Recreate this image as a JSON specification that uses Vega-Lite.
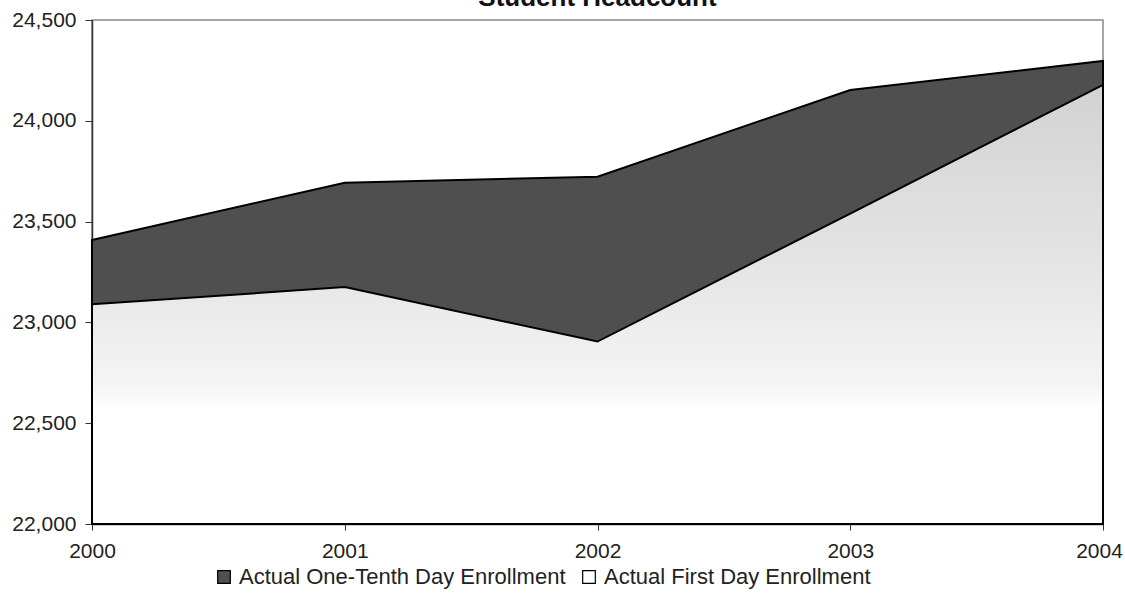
{
  "$schema": "https://vega.github.io/schema/vega-lite/v6.json",
  "autosize": "none",
  "width": 1011,
  "height": 504,
  "padding": {"left": 92, "top": 20, "right": 22, "bottom": 73},
  "background": "white",
  "title": {"text": "Student Headcount", "font": "Liberation Sans", "fontSize": 26, "fontWeight": "bold", "color": "#111", "anchor": "middle", "baseline": "alphabetic", "offset": 0, "dy": 23, "frame": "group"},
  "config": {
    "view": {"stroke": "#888", "strokeWidth": 1.5},
    "axis": {"labelFont": "Liberation Sans", "labelFontSize": 21, "labelColor": "#222", "domainColor": "#333", "tickColor": "#333", "domainWidth": 1.5, "grid": false, "title": null},
    "legend": {"labelFont": "Liberation Sans", "labelFontSize": 22, "labelColor": "#222", "labelLimit": 0}
  },
  "data": {
    "values": [
      {"year": 2000, "series": "Actual One-Tenth Day Enrollment", "value": 23409},
      {"year": 2001, "series": "Actual One-Tenth Day Enrollment", "value": 23693},
      {"year": 2002, "series": "Actual One-Tenth Day Enrollment", "value": 23723},
      {"year": 2003, "series": "Actual One-Tenth Day Enrollment", "value": 24153},
      {"year": 2004, "series": "Actual One-Tenth Day Enrollment", "value": 24297},
      {"year": 2000, "series": "Actual First Day Enrollment", "value": 23090},
      {"year": 2001, "series": "Actual First Day Enrollment", "value": 23175},
      {"year": 2002, "series": "Actual First Day Enrollment", "value": 22905},
      {"year": 2003, "series": "Actual First Day Enrollment", "value": 23540},
      {"year": 2004, "series": "Actual First Day Enrollment", "value": 24178}
    ]
  },
  "encoding": {
    "x": {"field": "year", "type": "quantitative", "scale": {"domain": [2000, 2004], "nice": false, "zero": false},
      "axis": {"values": [2000, 2001, 2002, 2003, 2004], "format": "d", "tickSize": 6, "labelPadding": 10, "labelFlush": false,
        "labelOffset": {"condition": {"test": "datum.value === 2004", "value": -4}, "value": 0}}},
    "y": {"field": "value", "type": "quantitative", "scale": {"domain": [22000, 24500], "nice": false, "zero": false},
      "axis": {"values": [22000, 22500, 23000, 23500, 24000, 24500], "format": ",d", "tickSize": 7, "labelPadding": 9}},
    "y2": {"datum": 22000}
  },
  "layer": [
    {
      "transform": [{"filter": "datum.series === 'Actual One-Tenth Day Enrollment'"}],
      "mark": {"type": "area", "stroke": "black", "strokeWidth": 2, "fillOpacity": 1, "strokeJoin": "miter"},
      "encoding": {
        "fill": {"field": "series", "type": "nominal",
          "scale": {"domain": ["Actual One-Tenth Day Enrollment", "Actual First Day Enrollment"], "range": ["#4f4f4f", "#ffffff"]},
          "legend": {"title": null, "orient": "none", "direction": "horizontal", "legendX": 121, "legendY": 546, "symbolType": "square", "symbolSize": 160, "symbolStrokeColor": "black", "symbolStrokeWidth": 1.2, "symbolOpacity": 1, "symbolFillOpacity": 1, "columnPadding": 12, "labelOffset": 4}}
      }
    },
    {
      "transform": [{"filter": "datum.series === 'Actual First Day Enrollment'"}],
      "mark": {"type": "area", "stroke": "black", "strokeWidth": 2, "fillOpacity": 1, "strokeJoin": "miter",
        "fill": {"gradient": "linear", "x1": 0, "y1": 0, "x2": 0, "y2": 1,
          "stops": [{"offset": 0, "color": "#d2d2d2"}, {"offset": 0.4, "color": "#e4e4e4"}, {"offset": 0.68, "color": "#f4f4f4"}, {"offset": 0.74, "color": "#ffffff"}, {"offset": 1, "color": "#ffffff"}]}}
    }
  ]
}
